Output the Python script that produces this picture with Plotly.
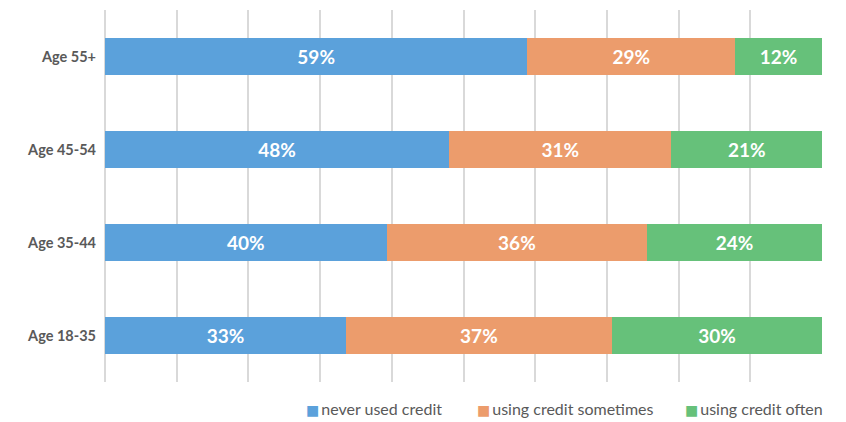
import plotly.graph_objects as go

categories = ["Age 18-35", "Age 35-44", "Age 45-54", "Age 55+"]
series_names = ["never used credit", "using credit sometimes", "using credit often"]
never_used = [33.6, 39.3, 48.0, 58.9]
sometimes = [37.1, 36.3, 31.0, 29.0]
often = [29.3, 24.4, 21.0, 12.1]
never_labels = ["33%", "40%", "48%", "59%"]
sometimes_labels = ["37%", "36%", "31%", "29%"]
often_labels = ["30%", "24%", "21%", "12%"]
x_ticks = [0, 10, 20, 30, 40, 50, 60, 70, 80, 90, 100]

colors = ["#5BA1DB", "#EC9C6C", "#66C17A"]
values = [never_used, sometimes, often]
labels = [never_labels, sometimes_labels, often_labels]

fig = go.Figure()
for name, vals, txt, col in zip(series_names, values, labels, colors):
    fig.add_trace(go.Bar(
        y=categories, x=vals, name=name, orientation="h",
        marker=dict(color=col, line=dict(width=0)),
        text=txt, textposition="inside", insidetextanchor="middle",
        textfont=dict(family="Lato", size=19, color="white", weight="bold"),
        width=0.4, hoverinfo="skip", showlegend=False,
    ))

# legend drawn as text entries (small square + label), like the reference
legend_x = [0.2775, 0.5160, 0.8060]
for name, col, lx in zip(series_names, colors, legend_x):
    fig.add_annotation(
        xref="paper", yref="paper", x=lx, y=-0.07, xanchor="left", yanchor="middle",
        showarrow=False,
        text=f"<span style='color:{col};font-size:14px;font-family:DejaVu Sans'>■</span>\u2009{name}",
        font=dict(family="Lato", size=16, color="#595959"),
    )

fig.update_layout(
    barmode="stack",
    width=838, height=414,
    margin=dict(l=97, r=24, t=2, b=40),
    paper_bgcolor="white", plot_bgcolor="white",
    font=dict(family="Lato", color="#595959"),
    showlegend=False,
)
fig.update_xaxes(range=[0, 100], tickvals=x_ticks, showticklabels=False,
                 showgrid=True, gridcolor="#D9D9D9", gridwidth=1.5,
                 zeroline=True, zerolinecolor="#D9D9D9", zerolinewidth=1.5,
                 showline=False, fixedrange=True)
fig.update_yaxes(range=[-0.5, 3.5], showgrid=False, zeroline=False, showline=False,
                 tickfont=dict(family="Lato", size=14.5, color="#595959", weight="bold"),
                 ticks="", ticklabelstandoff=8, automargin=False)

fig.write_html("out.html")
